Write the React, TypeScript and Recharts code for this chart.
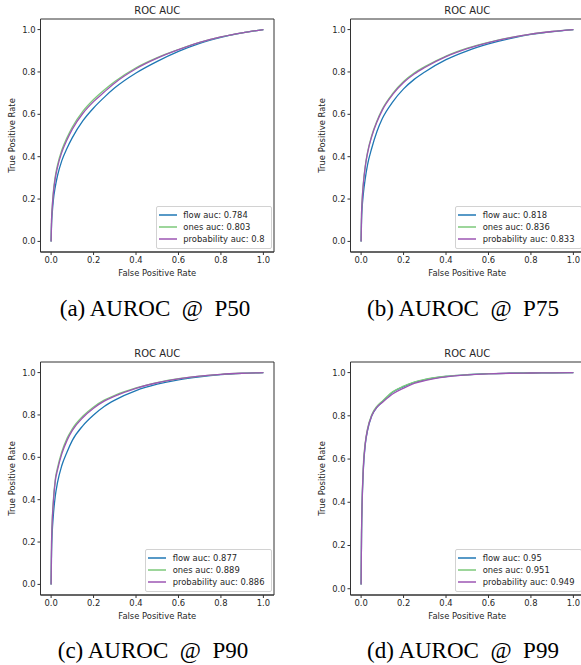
import React from 'react';
import { LineChart, Line, XAxis, YAxis, Legend, ReferenceArea } from 'recharts';

// shared false positive rate grid
const FPR = [0, 0.002, 0.005, 0.01, 0.02, 0.03, 0.05, 0.075, 0.1, 0.15, 0.2, 0.25, 0.3, 0.4, 0.5, 0.6, 0.7, 0.8, 0.9, 1.0];
const TICKS = [0, 0.2, 0.4, 0.6, 0.8, 1.0];

// (a) P50
const P50_FLOW = [0, 0.08, 0.13, 0.19, 0.26, 0.31, 0.38, 0.44, 0.49, 0.57, 0.63, 0.68, 0.725, 0.795, 0.85, 0.897, 0.935, 0.963, 0.984, 1];
const P50_ONES = [0, 0.1, 0.16, 0.23, 0.31, 0.36, 0.43, 0.49, 0.54, 0.615, 0.67, 0.715, 0.755, 0.82, 0.868, 0.906, 0.94, 0.966, 0.985, 1];
const P50_PROB = [0, 0.1, 0.155, 0.22, 0.3, 0.35, 0.42, 0.48, 0.53, 0.605, 0.66, 0.705, 0.748, 0.815, 0.865, 0.905, 0.94, 0.966, 0.985, 1];
const P50_NAMES = ['flow auc: 0.784', 'ones auc: 0.803', 'probability auc: 0.8'];

// (b) P75
const P75_FLOW = [0, 0.1, 0.16, 0.22, 0.3, 0.36, 0.44, 0.52, 0.58, 0.66, 0.72, 0.765, 0.8, 0.858, 0.9, 0.932, 0.957, 0.977, 0.99, 1];
const P75_ONES = [0, 0.13, 0.2, 0.27, 0.36, 0.42, 0.5, 0.57, 0.625, 0.7, 0.755, 0.795, 0.825, 0.875, 0.912, 0.94, 0.962, 0.979, 0.991, 1];
const P75_PROB = [0, 0.13, 0.195, 0.265, 0.355, 0.415, 0.495, 0.565, 0.62, 0.695, 0.75, 0.79, 0.821, 0.872, 0.91, 0.939, 0.961, 0.979, 0.991, 1];
const P75_NAMES = ['flow auc: 0.818', 'ones auc: 0.836', 'probability auc: 0.833'];

// (c) P90
const P90_FLOW = [0, 0.15, 0.24, 0.32, 0.42, 0.48, 0.56, 0.625, 0.68, 0.75, 0.8, 0.84, 0.87, 0.915, 0.945, 0.966, 0.98, 0.99, 0.996, 1];
const P90_ONES = [0, 0.2, 0.3, 0.39, 0.5, 0.55, 0.625, 0.69, 0.735, 0.795, 0.838, 0.87, 0.893, 0.928, 0.953, 0.971, 0.983, 0.992, 0.997, 1];
const P90_PROB = [0, 0.19, 0.29, 0.38, 0.49, 0.54, 0.615, 0.68, 0.727, 0.788, 0.832, 0.865, 0.889, 0.926, 0.952, 0.97, 0.983, 0.992, 0.997, 1];
const P90_NAMES = ['flow auc: 0.877', 'ones auc: 0.889', 'probability auc: 0.886'];

// (d) P99
const P99_FLOW = [0.02, 0.25, 0.4, 0.54, 0.67, 0.73, 0.8, 0.84, 0.865, 0.91, 0.935, 0.955, 0.967, 0.982, 0.99, 0.995, 0.997, 0.998, 0.999, 1];
const P99_ONES = [0.02, 0.27, 0.42, 0.56, 0.68, 0.74, 0.805, 0.845, 0.868, 0.912, 0.937, 0.956, 0.968, 0.983, 0.99, 0.995, 0.997, 0.998, 0.999, 1];
const P99_PROB = [0.02, 0.26, 0.41, 0.55, 0.675, 0.735, 0.8, 0.84, 0.862, 0.902, 0.928, 0.95, 0.963, 0.98, 0.989, 0.994, 0.997, 0.998, 0.999, 1];
const P99_NAMES = ['flow auc: 0.95', 'ones auc: 0.951', 'probability auc: 0.949'];

const CAPTIONS = ['(a) AUROC  @  P50', '(b) AUROC  @  P75', '(c) AUROC  @  P90', '(d) AUROC  @  P99'];

const COLORS = ['#1f77b4', '#7cc97a', '#9c56b3'];
const SANS = 'DejaVu Sans';
const TXT = '#262626';
const fmt = (v: number) => v.toFixed(1);

const makeLegend = (names: string[]) => () => (
  <div
    style={{
      border: '1px solid #d2d2d2',
      borderRadius: 2,
      background: 'rgba(255,255,255,0.85)',
      padding: '2.5px 6px 2.5px 2px',
      fontFamily: SANS,
      fontSize: 8.4,
      color: TXT,
    }}
  >
    {names.map((n, i) => (
      <div key={i} style={{ display: 'flex', alignItems: 'center', height: 12, whiteSpace: 'nowrap' }}>
        <svg width={18} height={4} style={{ display: 'block', marginRight: 6.6, flex: 'none' }}>
          <line x1={0} y1={2} x2={18} y2={2} stroke={COLORS[i]} strokeWidth={1.5} />
        </svg>
        <span>{n}</span>
      </div>
    ))}
  </div>
);

type PanelProps = {
  left: number;
  top: number;
  flow: number[];
  ones: number[];
  prob: number[];
  names: string[];
  yDomain: [number, number];
};

const Panel = ({ left, top, flow, ones, prob, names, yDomain }: PanelProps) => {
  const rows = FPR.map((f, i) => ({ fpr: f, flow: flow[i], ones: ones[i], prob: prob[i] }));
  const W = 290;
  const H = 285;
  return (
    <div style={{ position: 'absolute', left, top, width: W, height: H }}>
      <div
        style={{
          position: 'absolute',
          left: 40.5,
          width: 233.5,
          top: 5,
          lineHeight: '12px',
          textAlign: 'center',
          fontFamily: SANS,
          fontSize: 10,
          color: TXT,
        }}
      >
        ROC AUC
      </div>
      <LineChart width={W} height={H} data={rows} margin={{ top: 19, right: 16, bottom: 0, left: 0 }}>
        <XAxis
          dataKey="fpr"
          type="number"
          domain={[-0.05, 1.05]}
          ticks={TICKS}
          tickFormatter={fmt}
          tickSize={3}
          tickMargin={2}
          height={33}
          stroke="#333"
          tick={{ fill: TXT, fontSize: 8.4, fontFamily: SANS }}
          allowDataOverflow
          label={{
            value: 'False Positive Rate',
            position: 'insideBottom',
            offset: 9.5,
            style: { fill: TXT, fontSize: 8.4, fontFamily: SANS },
          }}
        />
        <YAxis
          type="number"
          domain={yDomain}
          ticks={TICKS}
          tickFormatter={fmt}
          tickSize={3}
          tickMargin={2}
          width={40.5}
          stroke="#333"
          tick={{ fill: TXT, fontSize: 8.4, fontFamily: SANS }}
          allowDataOverflow
          label={{
            value: 'True Positive Rate',
            angle: -90,
            position: 'insideLeft',
            offset: 12,
            style: { fill: TXT, fontSize: 8.4, fontFamily: SANS, textAnchor: 'middle' },
          }}
        />
        <ReferenceArea
          x1={-0.05}
          x2={1.05}
          y1={yDomain[0]}
          y2={yDomain[1]}
          fill="none"
          fillOpacity={0}
          stroke="#333"
          strokeWidth={1}
          ifOverflow="visible"
        />
        <Line dataKey="flow" name={names[0]} type="monotone" stroke={COLORS[0]} strokeWidth={1.3} dot={false} activeDot={false} isAnimationActive={false} />
        <Line dataKey="ones" name={names[1]} type="monotone" stroke={COLORS[1]} strokeWidth={1.3} dot={false} activeDot={false} isAnimationActive={false} />
        <Line dataKey="prob" name={names[2]} type="monotone" stroke={COLORS[2]} strokeWidth={1.3} dot={false} activeDot={false} isAnimationActive={false} />
        <Legend
          layout="vertical"
          align="center"
          verticalAlign="middle"
          content={makeLegend(names)}
          wrapperStyle={{ left: 'auto', top: 205.5, right: 18.5, bottom: 'auto', width: 'auto', height: 'auto' }}
        />
      </LineChart>
    </div>
  );
};

const Caption = ({ text, cx, top }: { text: string; cx: number; top: number }) => (
  <div
    style={{
      position: 'absolute',
      left: cx - 140,
      width: 280,
      top,
      textAlign: 'center',
      fontFamily: '"Liberation Serif", "Times New Roman", serif',
      fontSize: 23,
      lineHeight: '23px',
      whiteSpace: 'pre',
      color: '#000',
    }}
  >
    {text}
  </div>
);

export default function App() {
  return (
    <div style={{ position: 'absolute', left: 0, top: 0, width: 581, height: 665, overflow: 'hidden', background: '#fff' }}>
      <Panel left={0} top={0} flow={P50_FLOW} ones={P50_ONES} prob={P50_PROB} names={P50_NAMES} yDomain={[-0.05, 1.05]} />
      <Panel left={310} top={0} flow={P75_FLOW} ones={P75_ONES} prob={P75_PROB} names={P75_NAMES} yDomain={[-0.05, 1.05]} />
      <Panel left={0} top={343} flow={P90_FLOW} ones={P90_ONES} prob={P90_PROB} names={P90_NAMES} yDomain={[-0.05, 1.05]} />
      <Panel left={310} top={343} flow={P99_FLOW} ones={P99_ONES} prob={P99_PROB} names={P99_NAMES} yDomain={[-0.029, 1.049]} />
      <Caption text={CAPTIONS[0]} cx={155} top={297} />
      <Caption text={CAPTIONS[1]} cx={463} top={297} />
      <Caption text={CAPTIONS[2]} cx={153} top={638.5} />
      <Caption text={CAPTIONS[3]} cx={463} top={638.5} />
    </div>
  );
}
